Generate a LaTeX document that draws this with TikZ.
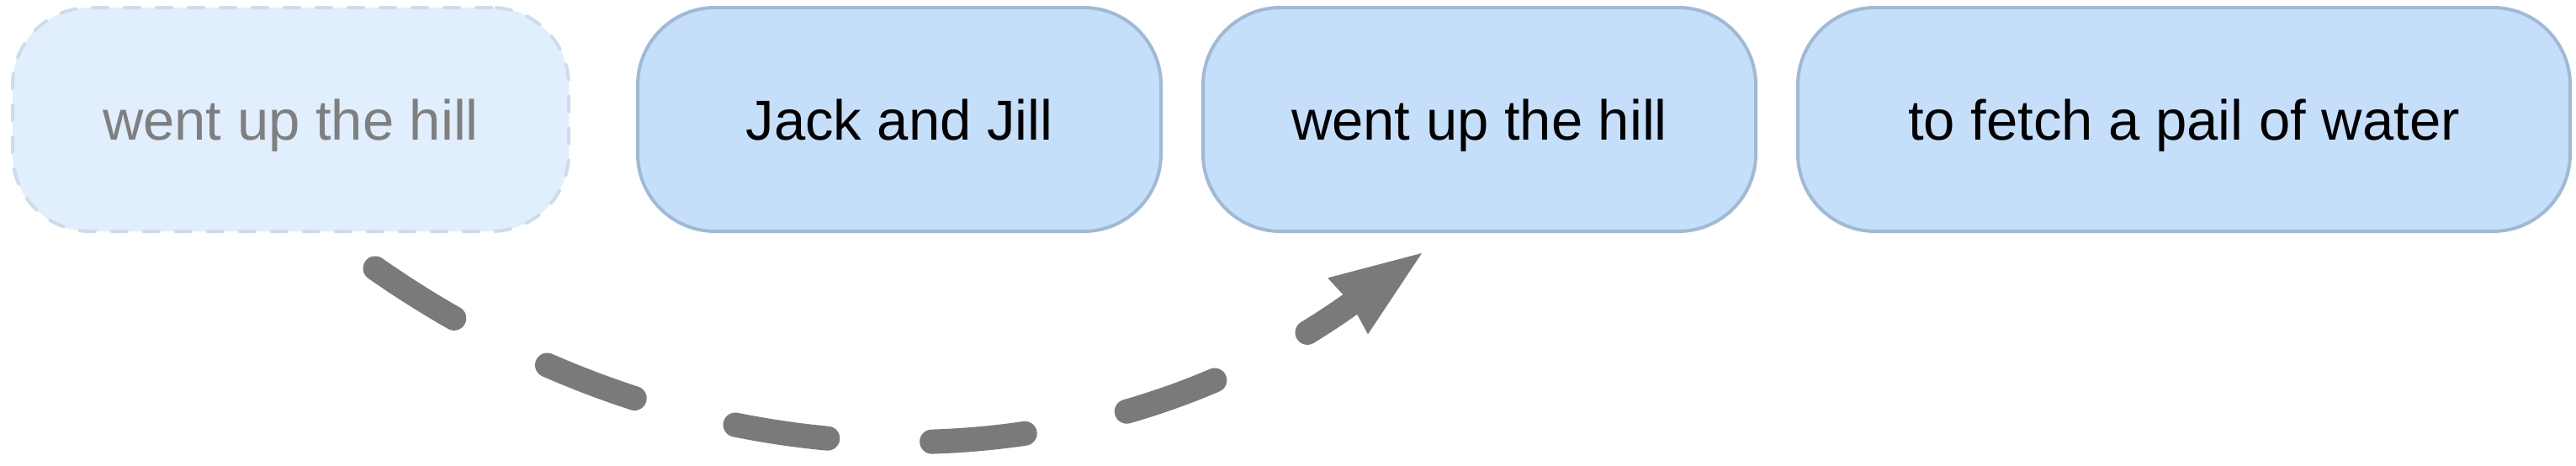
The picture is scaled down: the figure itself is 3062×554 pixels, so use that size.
\documentclass[tikz,border=0pt]{standalone}
\usepackage{fontspec}
\setmainfont{Liberation Sans}
\usetikzlibrary{arrows.meta}
\definecolor{boxfill}{HTML}{C5DFFB}
\definecolor{boxline}{HTML}{A0B9D7}
\definecolor{ghostfill}{HTML}{E0EEFD}
\definecolor{ghostline}{HTML}{CDDCEB}
\definecolor{ghosttext}{HTML}{7F7F7F}
\definecolor{arrowgray}{HTML}{7A7A7A}
\tikzset{
  word/.style={rounded corners=92pt, minimum height=266pt, inner sep=0pt,
    text height=48pt, text depth=0pt, font=\fontsize{67}{80}\selectfont,
    line width=4pt},
  wordbox/.style={word, draw=boxline, fill=boxfill, text=black},
  ghostbox/.style={word, draw=ghostline, fill=ghostfill, text=ghosttext,
    dash pattern=on 18pt off 20pt, line cap=round},
  movearrow/.style={draw=arrowgray, line width=29pt, line cap=round,
    dash pattern=on 111pt off 124pt,
    -{Stealth[length=108pt, width=82pt, inset=5pt, line width=1pt]}}
}
\begin{document}
\begin{tikzpicture}[x=1pt, y=-1pt]
\useasboundingbox (0,0) rectangle (3062,554);
\node[ghostbox, minimum width=661pt] (g) at (345.5,142) {went up the hill};
\node[wordbox, minimum width=622pt] (jj) at (1069,142) {Jack and Jill};
\node[wordbox, minimum width=657pt] (up) at (1758.5,142) {went up the hill};
\node[wordbox, minimum width=918pt] (fetch) at (2596,142) {to fetch a pail of water};
\coordinate (s) at (446,319);
\coordinate (t) at (1690,301);
\draw[movearrow] (s) .. controls (830,587) and (1290,587) .. (t);
\end{tikzpicture}
\end{document}
